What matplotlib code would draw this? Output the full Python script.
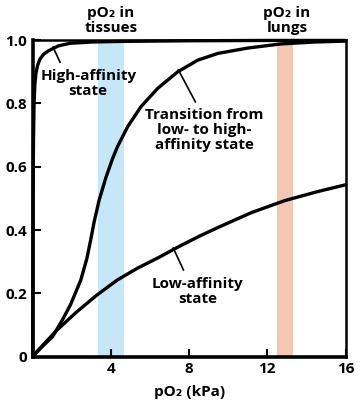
import matplotlib
matplotlib.use("Agg")
import matplotlib.pyplot as plt

FONT = ["Open Sans", "DejaVu Sans"]
plt.rcParams["font.family"] = FONT

# Data
high_x = [0, 0.01, 0.02, 0.04, 0.07, 0.11, 0.17, 0.25, 0.37, 0.55, 0.8, 1.32, 1.91, 3.0, 4.5, 8, 12, 16]
high_y = [0, 0.30, 0.50, 0.68, 0.80, 0.86, 0.897, 0.92, 0.94, 0.955, 0.966, 0.982, 0.99, 0.994, 0.996, 0.998, 0.999, 0.999]

trans_x = [0, 0.41, 1.01, 1.52, 1.94, 2.46, 2.77, 2.97, 3.14, 3.40, 3.74, 4.08, 4.34, 4.86,
           5.54, 6.40, 7.42, 8.45, 9.47, 11.0, 12.7, 14.4, 16]
trans_y = [0, 0.027, 0.063, 0.116, 0.165, 0.242, 0.310, 0.370, 0.425, 0.495, 0.565, 0.625, 0.664, 0.727,
           0.79, 0.848, 0.90, 0.937, 0.958, 0.975, 0.988, 0.994, 0.997]

low_x = [0, 0.21, 1.24, 2.26, 3.29, 4.32, 5.34, 6.37, 7.48, 8.5, 9.47, 11.18, 12.89, 14.6, 16]
low_y = [0, 0.016, 0.084, 0.142, 0.195, 0.242, 0.279, 0.311, 0.348, 0.380, 0.408, 0.455, 0.493, 0.522, 0.543]

tissue_band = [3.33, 4.67]
lung_band = [12.5, 13.3]

x_ticks = [4, 8, 12, 16]
x_ticklabels = ["4", "8", "12", "16"]
y_ticks = [0, 0.2, 0.4, 0.6, 0.8, 1.0]
y_ticklabels = ["0", "0.2", "0.4", "0.6", "0.8", "1.0"]

fig = plt.figure(figsize=(3.6, 4.07), dpi=100)
ax = fig.add_axes([0.0908, 0.1236, 0.869, 0.7778])

ax.axvspan(*tissue_band, color="#c6e7f8", lw=0, zorder=1)
ax.axvspan(*lung_band, color="#f4c7b2", lw=0, zorder=1)

for xs, ys in [(high_x, high_y), (trans_x, trans_y), (low_x, low_y)]:
    ax.plot(xs, ys, color="black", lw=2.4, solid_capstyle="round",
            solid_joinstyle="round", zorder=3, clip_on=False)

ax.set_xlim(0, 16)
ax.set_ylim(0, 1.0)
ax.set_xticks(x_ticks)
ax.set_xticklabels(x_ticklabels)
ax.set_yticks(y_ticks)
ax.set_yticklabels(y_ticklabels)
ax.tick_params(direction="in", length=6, width=1.5, labelsize=11, pad=4, colors="black")
for lab in ax.get_xticklabels() + ax.get_yticklabels():
    lab.set_fontweight("bold")
ax.spines["left"].set_linewidth(2.6)
ax.spines["bottom"].set_linewidth(2.6)
ax.spines["top"].set_linewidth(1.8)
ax.spines["right"].set_linewidth(1.8)
for s in ax.spines.values():
    s.set_zorder(4)

ax.set_xlabel("pO\u2082 (kPa)", fontsize=11, fontweight="bold", labelpad=6)

tkw = dict(fontsize=11, fontweight="bold", ha="center", va="center", linespacing=1.12)
ax.text(4.0, 1.063, "pO\u2082 in\ntissues", **tkw)
ax.text(13.0, 1.063, "pO\u2082 in\nlungs", **tkw)

ax.text(2.84, 0.863, "High-affinity\nstate", **tkw)
ax.text(8.79, 0.716, "Transition from\nlow- to high-\naffinity state", **tkw)
ax.text(8.43, 0.206, "Low-affinity\nstate", **tkw)

# leader lines
lkw = dict(color="black", lw=1.2, zorder=3)
ax.plot([1.04, 1.40], [0.978, 0.930], **lkw)
ax.plot([7.45, 8.32], [0.906, 0.805], **lkw)
ax.plot([7.19, 7.71], [0.343, 0.274], **lkw)

fig.savefig("out.png", dpi=100)
